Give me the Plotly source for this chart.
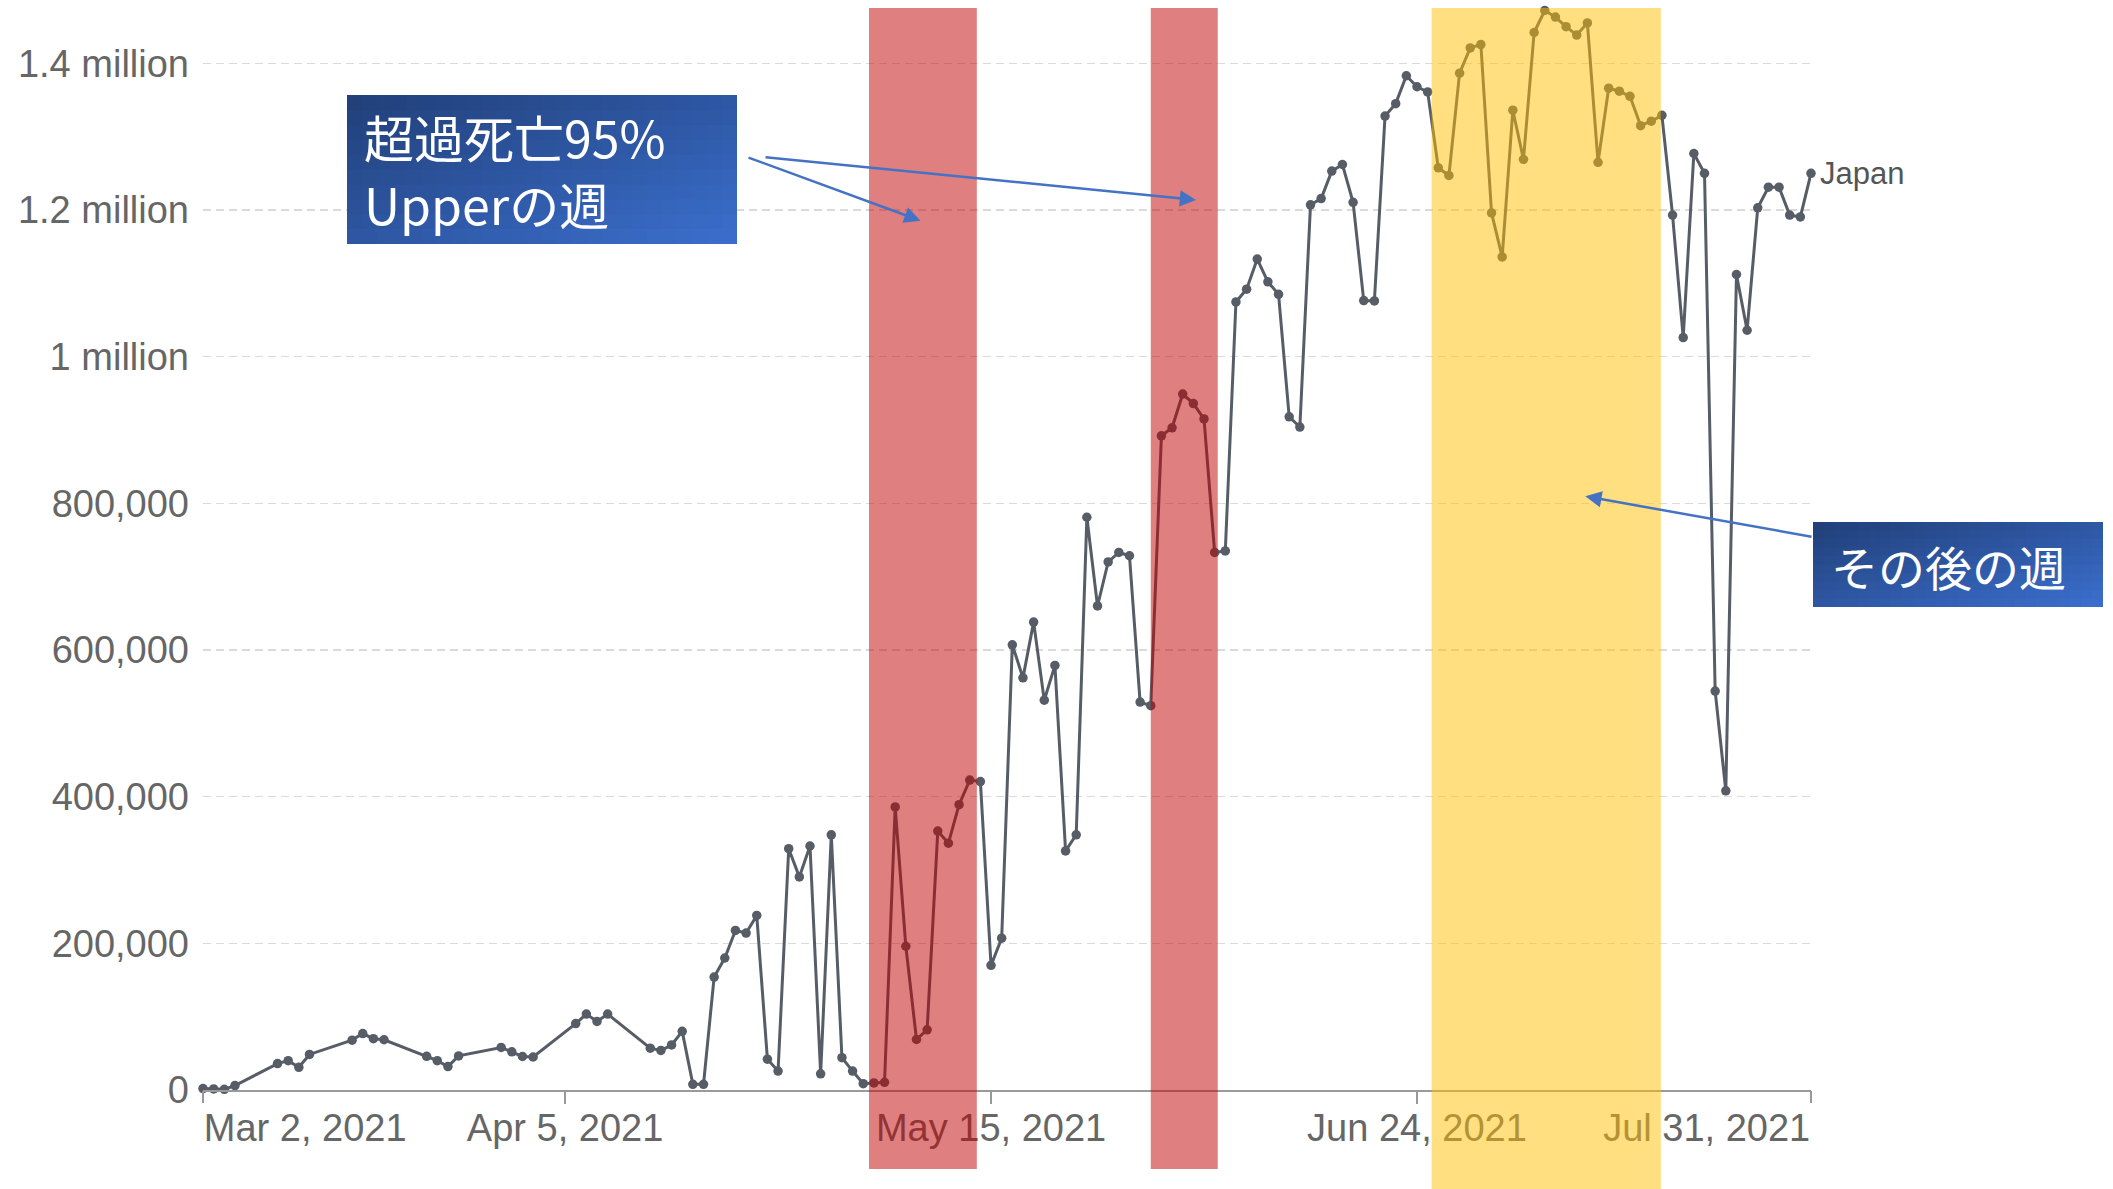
import plotly.graph_objects as go

# ---------------- data ----------------
dates = [
    "2021-03-02", "2021-03-03", "2021-03-04", "2021-03-05",
    "2021-03-09", "2021-03-10", "2021-03-11", "2021-03-12",
    "2021-03-16", "2021-03-17", "2021-03-18", "2021-03-19",
    "2021-03-23", "2021-03-24", "2021-03-25", "2021-03-26",
    "2021-03-30", "2021-03-31", "2021-04-01", "2021-04-02",
    "2021-04-06", "2021-04-07", "2021-04-08", "2021-04-09",
    "2021-04-13", "2021-04-14", "2021-04-15", "2021-04-16", "2021-04-17", "2021-04-18",
    "2021-04-19", "2021-04-20", "2021-04-21", "2021-04-22", "2021-04-23", "2021-04-24", "2021-04-25",
    "2021-04-26", "2021-04-27", "2021-04-28", "2021-04-29", "2021-04-30", "2021-05-01", "2021-05-02",
    "2021-05-03", "2021-05-04", "2021-05-05", "2021-05-06", "2021-05-07", "2021-05-08", "2021-05-09",
    "2021-05-10", "2021-05-11", "2021-05-12", "2021-05-13", "2021-05-14", "2021-05-15", "2021-05-16",
    "2021-05-17", "2021-05-18", "2021-05-19", "2021-05-20", "2021-05-21", "2021-05-22", "2021-05-23",
    "2021-05-24", "2021-05-25", "2021-05-26", "2021-05-27", "2021-05-28", "2021-05-29", "2021-05-30",
    "2021-05-31", "2021-06-01", "2021-06-02", "2021-06-03", "2021-06-04", "2021-06-05", "2021-06-06",
    "2021-06-07", "2021-06-08", "2021-06-09", "2021-06-10", "2021-06-11", "2021-06-12", "2021-06-13",
    "2021-06-14", "2021-06-15", "2021-06-16", "2021-06-17", "2021-06-18", "2021-06-19", "2021-06-20",
    "2021-06-21", "2021-06-22", "2021-06-23", "2021-06-24", "2021-06-25", "2021-06-26", "2021-06-27",
    "2021-06-28", "2021-06-29", "2021-06-30", "2021-07-01", "2021-07-02", "2021-07-03", "2021-07-04",
    "2021-07-05", "2021-07-06", "2021-07-07", "2021-07-08", "2021-07-09", "2021-07-10", "2021-07-11",
    "2021-07-12", "2021-07-13", "2021-07-14", "2021-07-15", "2021-07-16", "2021-07-17", "2021-07-18",
    "2021-07-19", "2021-07-20", "2021-07-21", "2021-07-22", "2021-07-23", "2021-07-24", "2021-07-25",
    "2021-07-26", "2021-07-27", "2021-07-28", "2021-07-29", "2021-07-30", "2021-07-31",
]
doses = [
    2000, 1500, 1000, 6000,
    36000, 40000, 31000, 48500,
    68000, 77000, 70000, 68500,
    46000, 40000, 32000, 46500,
    58000, 52000, 45700, 45000,
    90600, 103500, 93500, 103500,
    57000, 54000, 61400, 80000, 7800, 7800,
    154000, 180000, 217600, 214000, 238000, 42000, 25800,
    329000, 290600, 332700, 22000, 348000, 44000, 25800,
    8600, 9600, 10500, 386000, 196000, 69000, 82000,
    353000, 336500, 389000, 422600, 420600, 170000, 207000,
    607000, 562000, 638000, 531500, 579000, 326000, 348000,
    781000, 660000, 720000, 733000, 728500, 529000, 524000,
    892000, 903000, 949000, 936000, 915000, 733000, 735000,
    1074600, 1092000, 1133000, 1102000, 1085000, 918000, 904000,
    1207000, 1215500, 1253000, 1262000, 1210500, 1076500, 1076000,
    1328000, 1345000, 1383000, 1368000, 1361000, 1257500, 1247000,
    1386500, 1421000, 1425600, 1196000, 1136000, 1336000, 1269000,
    1442000, 1472000, 1463000, 1450000, 1438500, 1455000, 1265000,
    1366000, 1362000, 1355000, 1315000, 1321000, 1329000, 1193000,
    1026000, 1277000, 1250000, 544000, 408000, 1112000, 1036000,
    1203000, 1231000, 1231000, 1193000, 1190500, 1250000,
]
series_name = "Japan"

y_tickvals = [0, 200000, 400000, 600000, 800000, 1000000, 1200000, 1400000]
y_ticktext = ["0", "200,000", "400,000", "600,000", "800,000",
              "1 million", "1.2 million", "1.4 million"]
x_mid_tickvals = ["2021-04-05", "2021-05-15", "2021-06-24"]
x_mid_ticktext = ["Apr 5, 2021", "May 15, 2021", "Jun 24, 2021"]
x_first_tick, x_first_label = "2021-03-02", "Mar 2, 2021"
x_last_tick, x_last_label = "2021-07-31", "Jul 31, 2021"

excess_weeks = [("2021-05-03 13:00", "2021-05-13 16:00"),
                ("2021-05-30 00:00", "2021-06-05 07:00")]
after_week = ("2021-06-25 09:00", "2021-07-16 21:30")

label_excess = ["超過死亡95%", "Upperの週"]
label_after = "その後の週"

# ---------------- layout geometry ----------------
W, H = 2113, 1189
L, R, T, B = 203, 302, 8, 99
PW, PH = W - L - R, H - T - B
Y_MAX = 1475400


def px(xpix):
    return (xpix - L) / PW


def py(ypix):
    return (H - B - ypix) / PH


AX_FONT = dict(family="Arial, 'Liberation Sans', sans-serif", size=38, color="#666666")
LINE_C = "#575d67"
JP_FONT = "'Noto Sans CJK JP', sans-serif"

fig = go.Figure()
fig.add_trace(go.Scatter(
    x=dates, y=doses, mode="lines+markers", name=series_name,
    line=dict(color=LINE_C, width=3), marker=dict(size=9.5, color=LINE_C),
    cliponaxis=False, hoverinfo="skip", showlegend=False,
))
# invisible traces that carry the overlay axes for the end labels
for ax_name in ("x2", "x3"):
    fig.add_trace(go.Scatter(x=[dates[0]], y=[0], xaxis=ax_name, yaxis="y",
                             mode="markers", marker=dict(size=1, opacity=0),
                             hoverinfo="skip", showlegend=False))

xrange_ = [x_first_tick, x_last_tick]
common_x = dict(range=xrange_, type="date", showgrid=False, zeroline=False,
                ticks="outside", ticklen=12, tickwidth=1.5, tickcolor="#999999",
                tickfont=AX_FONT, fixedrange=True)

shapes = []
for x0, x1 in excess_weeks:
    shapes.append(dict(type="rect", xref="x", yref="paper", x0=x0, x1=x1,
                       y0=py(1169), y1=py(8), fillcolor="rgba(192,0,0,0.5)",
                       line=dict(width=0), layer="above"))
shapes.append(dict(type="rect", xref="x", yref="paper", x0=after_week[0], x1=after_week[1],
                   y0=py(1189), y1=py(8), fillcolor="rgba(255,192,0,0.5)",
                   line=dict(width=0), layer="above"))


def gradient_box(x0, y0, x1, y1, c0=(33, 63, 120), c1=(59, 111, 206), nx=26, ny=10):
    w, h = (x1 - x0) / nx, (y1 - y0) / ny
    for i in range(nx):
        for j in range(ny):
            t = ((i + 0.5) / nx + (j + 0.5) / ny) / 2
            c = tuple(round(a + (b - a) * t) for a, b in zip(c0, c1))
            cx0, cy0 = x0 + i * w, y0 + j * h
            cx1 = min(cx0 + w + 0.8, x1)
            cy1 = min(cy0 + h + 0.8, y1)
            shapes.append(dict(type="rect", xref="paper", yref="paper",
                               x0=px(cx0), x1=px(cx1), y0=py(cy1), y1=py(cy0),
                               fillcolor="rgb(%d,%d,%d)" % c, line=dict(width=0),
                               layer="above"))


gradient_box(347, 95, 737, 244)
gradient_box(1813, 522, 2103, 607)

annotations = []
ARROW_C = "#4472C4"
for hx, hy, tx, ty in [(920.5, 220.7, 747, 157), (1196, 200, 764, 157),
                       (1585.3, 496.3, 1813, 537)]:
    annotations.append(dict(xref="paper", yref="paper", x=px(hx), y=py(hy),
                            ax=tx - hx, ay=ty - hy, text="", showarrow=True,
                            arrowhead=2, arrowsize=1.3, arrowwidth=2.5,
                            arrowcolor=ARROW_C, standoff=0, startstandoff=0))

for line_text, cy in zip(label_excess, (136, 203)):
    annotations.append(dict(xref="paper", yref="paper", x=px(363), y=py(cy),
                            xanchor="left", yanchor="middle", align="left", showarrow=False,
                            borderpad=0, text=line_text,
                            font=dict(family=JP_FONT, size=50, color="white")))
annotations.append(dict(xref="paper", yref="paper", x=px(1829), y=py(565.8),
                        xanchor="left", yanchor="middle", showarrow=False,
                        text=label_after, font=dict(family=JP_FONT, size=47, color="white")))
annotations.append(dict(xref="x", yref="y", x=dates[-1], y=doses[-1], xanchor="left",
                        yanchor="middle", xshift=7, showarrow=False, text=series_name,
                        font=dict(family="Arial, 'Liberation Sans', sans-serif", size=31,
                                  color="#555555")))

fig.update_layout(
    width=W, height=H, margin=dict(l=L, r=R, t=T, b=B, autoexpand=False),
    paper_bgcolor="white", plot_bgcolor="white", showlegend=False,
    xaxis=dict(common_x, tickvals=x_mid_tickvals, ticktext=x_mid_ticktext,
               ticklabelstandoff=-9,
               showline=True, linecolor="#9a9a9a", linewidth=2),
    xaxis2=dict(common_x, overlaying="x", anchor="y", side="bottom",
                tickvals=[x_first_tick], ticktext=[x_first_label],
                ticklabelposition="outside right", ticklabelstandoff=4, showline=False),
    xaxis3=dict(common_x, overlaying="x", anchor="y", side="bottom",
                tickvals=[x_last_tick], ticktext=[x_last_label],
                ticklabelposition="outside left", ticklabelstandoff=4, showline=False),
    yaxis=dict(range=[0, Y_MAX], tickvals=y_tickvals, ticktext=y_ticktext,
               tickfont=AX_FONT, ticks="", ticklabelstandoff=13,
               showgrid=True, gridcolor="#dadada", gridwidth=1.6, griddash="8px,5px",
               zeroline=False, showline=False, fixedrange=True),
    shapes=shapes, annotations=annotations,
)

fig.write_html("out.html", config={"displayModeBar": False, "staticPlot": True},
               post_script="document.body.style.margin='0';document.body.style.overflow='hidden';")
